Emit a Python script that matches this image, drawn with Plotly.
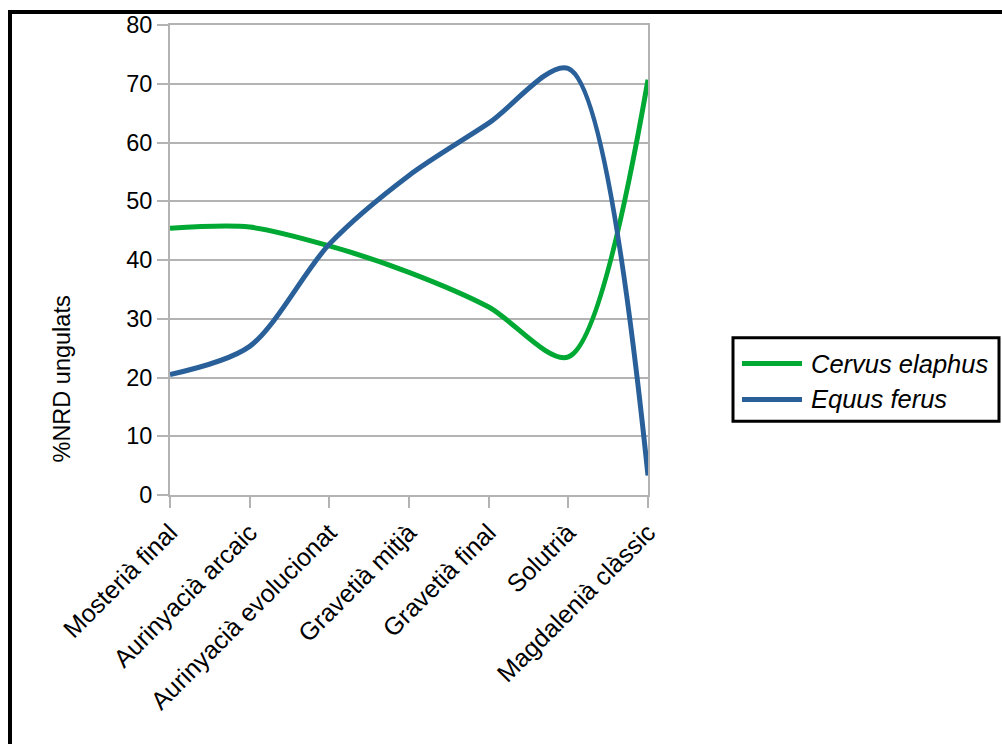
import plotly.graph_objects as go

# Periods (cultural phases) and % NRD of ungulates per species
periods = [
    "Mosterià final",
    "Aurinyacià arcaic",
    "Aurinyacià evolucionat",
    "Gravetià mitjà",
    "Gravetià final",
    "Solutrià",
    "Magdalenià clàssic",
]
cervus_elaphus = [45.4, 45.6, 42.4, 37.9, 32.0, 23.5, 70.7]
equus_ferus = [20.5, 25.3, 42.7, 54.4, 63.3, 72.6, 3.3]

series_names = ["Cervus elaphus", "Equus ferus"]
series_colors = ["#00a933", "#2a6099"]
y_ticks = [0, 10, 20, 30, 40, 50, 60, 70, 80]

W, H = 1002, 744
ML, MR, MT, MB = 170, 354, 23, 249
PW, PH = W - ML - MR, H - MT - MB
FONT = "Liberation Sans, Arial, sans-serif"
GRID = "#b3b3b3"


def px(x):
    return (x - ML) / PW


def py(y):
    return (H - MB - y) / PH


fig = go.Figure()
for name, vals, col in zip(series_names, [cervus_elaphus, equus_ferus], series_colors):
    fig.add_trace(go.Scatter(
        x=periods, y=vals, name=name, mode="lines",
        line=dict(color=col, width=5, shape="spline", smoothing=0.85),
        showlegend=False,
    ))

shapes = [
    # outer frame (top and left edges)
    dict(type="line", xref="paper", yref="paper", x0=px(8), x1=px(1010), y0=py(10), y1=py(10),
         line=dict(color="black", width=4)),
    dict(type="line", xref="paper", yref="paper", x0=px(10), x1=px(10), y0=py(8), y1=py(760),
         line=dict(color="black", width=4)),
    # legend box
    dict(type="rect", xref="paper", yref="paper", x0=px(733), x1=px(999), y0=py(337), y1=py(421),
         line=dict(color="black", width=3), fillcolor="white"),
]
annotations = [
    dict(text="%NRD ungulats", xref="paper", yref="paper", x=px(62), y=py(379),
         textangle=-90, showarrow=False, font=dict(family=FONT, size=23.5, color="black"),
         xanchor="center", yanchor="middle"),
]
for i, (name, col) in enumerate(zip(series_names, series_colors)):
    yc = 363 + 36 * i
    shapes.append(dict(type="line", xref="paper", yref="paper", x0=px(742), x1=px(802),
                       y0=py(yc), y1=py(yc), line=dict(color=col, width=5)))
    annotations.append(dict(text=f"<i>{name}</i>", xref="paper", yref="paper", x=px(809), y=py(yc),
                            showarrow=False, xanchor="left", yanchor="middle",
                            font=dict(family=FONT, size=25.5, color="black")))

fig.update_layout(
    width=W, height=H,
    margin=dict(l=ML, r=MR, t=MT, b=MB),
    paper_bgcolor="white", plot_bgcolor="white",
    font=dict(family=FONT, size=23, color="black"),
    shapes=shapes, annotations=annotations,
    xaxis=dict(
        type="category", range=[0, len(periods) - 1], tickangle=-45,
        showgrid=False, showline=True, linecolor=GRID, linewidth=2, mirror=True,
        ticks="outside", ticklen=11, tickcolor=GRID, tickwidth=2,
        tickfont=dict(family=FONT, size=25, color="black"),
    ),
    yaxis=dict(
        range=[0, 80], tickvals=y_ticks,
        showgrid=True, gridcolor=GRID, gridwidth=2,
        showline=True, linecolor=GRID, linewidth=2, mirror=True,
        ticks="outside", ticklen=11, tickcolor=GRID, tickwidth=2,
        tickfont=dict(family=FONT, size=23.5, color="black"),
        zeroline=False,
    ),
)

fig.write_html("out.html")
